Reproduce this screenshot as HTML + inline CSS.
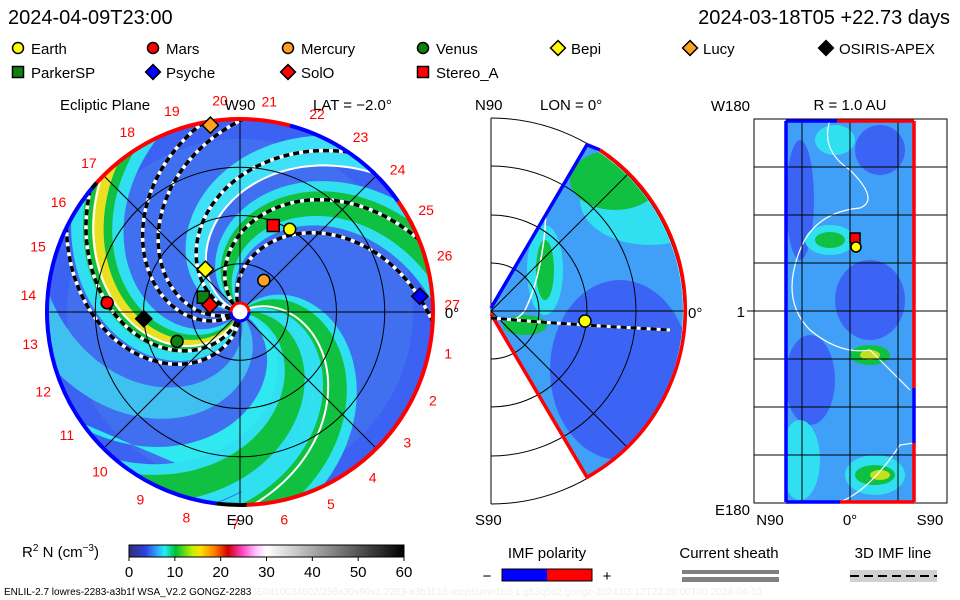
<!DOCTYPE html>
<html><head><meta charset="utf-8">
<style>
html,body{margin:0;padding:0;background:#fff;}
svg{display:block;font-family:"Liberation Sans","DejaVu Sans",sans-serif;}
</style></head>
<body>
<svg id="s" width="960" height="600" viewBox="0 0 960 600">
<defs>
<clipPath id="cc"><circle cx="240" cy="312" r="193"/></clipPath>
<clipPath id="wc"><path d="M491,311 L587,144.7 A192,192 0 0 1 587,477.3 Z"/></clipPath>
<clipPath id="rc"><rect x="785" y="120" width="129" height="382"/></clipPath>
<linearGradient id="cb" x1="0" x2="1" y1="0" y2="0">
<stop offset="0" stop-color="#303078"/><stop offset="0.06" stop-color="#3040e0"/><stop offset="0.1" stop-color="#30a0ff"/><stop offset="0.13" stop-color="#20f0f0"/><stop offset="0.17" stop-color="#00c030"/><stop offset="0.23" stop-color="#c0f000"/><stop offset="0.26" stop-color="#ffe000"/><stop offset="0.31" stop-color="#ff8000"/><stop offset="0.36" stop-color="#d00000"/><stop offset="0.41" stop-color="#ff40c0"/><stop offset="0.46" stop-color="#ffc0ff"/><stop offset="0.5" stop-color="#ffffff"/><stop offset="1" stop-color="#000000"/>
</linearGradient>
</defs>
<text x="8" y="24" font-size="20">2024-04-09T23:00</text>
<text x="950" y="24" font-size="20" text-anchor="end">2024-03-18T05 +22.73 days</text>
<g id="legend"></g>
<g id="main"></g>
<g id="mid"></g>
<g id="right"></g>
<g>
<text x="22" y="557" font-size="15">R<tspan font-size="10" dy="-6">2</tspan><tspan dy="6"> N (cm</tspan><tspan font-size="10" dy="-6">−3</tspan><tspan dy="6">)</tspan></text>
<rect x="129" y="545" width="275" height="12" fill="url(#cb)" stroke="#000"/>
<g id="cbt" font-size="15" text-anchor="middle"></g>
</g>
<text x="4" y="595" font-size="10">ENLIL-2.7 lowres-2283-a3b1f WSA_V2.2 GONGZ-2283<tspan fill="#eee">JE0410034502/256x30x90x1.2283-a3b1f.16-mcp1umn1cd-1.g53q5d2.gongz-2024:03:12T22:39:00T00  2024-04-10</tspan></text>
<g>
<text x="547" y="558" font-size="15" text-anchor="middle">IMF polarity</text>
<text x="487" y="581" font-size="15" text-anchor="middle">−</text>
<rect x="502" y="569" width="45" height="12" fill="#0000ff"/><rect x="547" y="569" width="45" height="12" fill="#ff0000"/>
<rect x="502" y="569" width="90" height="12" fill="none" stroke="#000"/>
<text x="607" y="581" font-size="15" text-anchor="middle">+</text>
</g>
<g>
<text x="729" y="558" font-size="15" text-anchor="middle">Current sheath</text>
<rect x="682" y="570" width="97" height="4" fill="#808080"/><rect x="682" y="577" width="97" height="5" fill="#808080"/>
</g>
<g>
<text x="893" y="558" font-size="15" text-anchor="middle">3D IMF line</text>
<rect x="850" y="570" width="87" height="12" fill="#d0d0d0"/>
<line x1="850" y1="576" x2="937" y2="576" stroke="#000" stroke-width="2" stroke-dasharray="9,5"/>
</g>
</svg>
<script>
const NS="http://www.w3.org/2000/svg";
function mk(p,tag,at){const e=document.createElementNS(NS,tag);for(const k in at)e.setAttribute(k,at[k]);p.appendChild(e);return e;}
// ---- data ----
const bodyNames=["Earth","Mars","Mercury","Venus","Bepi","Lucy","OSIRIS-APEX","ParkerSP","Psyche","SolO","Stereo_A"];
const bodyR=[1.0,1.38,0.41,0.72,0.57,1.96,1.0,0.41,1.87,0.32,0.96];
const bodyLon=[59,176,53,205,129,99,184,158,5,167,69];
const bodyShape=["circle","circle","circle","circle","diamond","diamond","diamond","square","diamond","diamond","square"];
const bodyColor=["#ffff00","#ff0000","#ffa020","#108010","#ffff00","#ffa020","#000000","#108010","#0000ff","#ff0000","#ff0000"];
const armTheta=[10,33,0,247,133,170,300];
const armWidth=[38,9,9,10,9,10,12];
const armColor=["#30e8f0","#10c040","#10c040","#10c040","#10c040","#40e0f8","#40c0f0"];
const imfTheta=[203,215,170,136,111,255,268];
const sheetTheta=[28,250,160];
const sectorLabels=[1,2,3,4,5,6,7,8,9,10,11,12,13,14,15,16,17,18,19,20,21,22,23,24,25,26,27];
const cbTicks=[0,10,20,30,40,50,60];
// ---- legend ----
const L=document.getElementById('legend');
function marker(g,shape,x,y,s,fill){
  let e;
  if(shape==="circle") e=mk(g,'circle',{cx:x,cy:y,r:s,fill:fill,stroke:"#000","stroke-width":1.5});
  else if(shape==="square") e=mk(g,'rect',{x:x-s,y:y-s,width:2*s,height:2*s,fill:fill,stroke:"#000","stroke-width":1.5});
  else e=mk(g,'polygon',{points:`${x},${y-s*1.35} ${x+s*1.35},${y} ${x},${y+s*1.35} ${x-s*1.35},${y}`,fill:fill,stroke:"#000","stroke-width":1.5});
  return e;
}
const legX=[18,153,288,423,558,690,826,18,153,288,423];
const legY=[48,48,48,48,48,48,48,72,72,72,72];
const legOrder=[0,1,2,3,4,5,6,7,8,9,10];
legOrder.forEach((bi,i)=>{
  const g=mk(L,'g',{});
  
  
  marker(g,bodyShape[bi],legX[i],legY[i],5.5,bodyColor[bi]);
  const t=mk(g,'text',{x:legX[i]+13,y:legY[i]+6,"font-size":15});t.textContent=bodyNames[bi];
});
// ---- main panel ----
const M=document.getElementById('main');
const cx=240,cy=312,AU=96.5,K=57;
function P(r,th){const a=th*Math.PI/180;return [cx+r*AU*Math.cos(a),cy-r*AU*Math.sin(a)];}
const fg=mk(M,'g',{"clip-path":"url(#cc)"});
mk(fg,'circle',{cx:cx,cy:cy,r:193,fill:"#4070f0"});
mk(fg,'circle',{cx:cx,cy:cy,r:193,fill:"none",stroke:"#3a5cf5","stroke-width":40,opacity:0.7});
function arm(g,th0,w,col){
  const a=[],b=[];
  for(let r=0;r<=2.2;r+=0.04){a.push(P(r,th0-K*r+w));b.push(P(r,th0-K*r-w));}
  const pts=a.concat(b.reverse()).map(p=>p[0].toFixed(1)+","+p[1].toFixed(1)).join(" ");
  return mk(g,'polygon',{points:pts,fill:col});
}
armTheta.forEach((t,i)=>{
  const g=mk(fg,'g',{});
  
  
  if(armColor[i]==="#10c040") arm(g,t,armWidth[i]*1.8,"#30e0f0");
  arm(g,t,armWidth[i],armColor[i]);
  if(i===3){arm(g,t,4,"#e8e020");}
});
function spiralPath(th0,r0){let d="";for(let r=r0;r<=2.2;r+=0.03){const p=P(r,th0-K*r);d+=(d?"L":"M")+p[0].toFixed(1)+","+p[1].toFixed(1);}return d;}
sheetTheta.forEach(t=>{
  const e=mk(fg,'path',{d:spiralPath(t,0.08),fill:"none",stroke:"#fff","stroke-width":2});
  
  
});
imfTheta.forEach(t=>{
  const g=mk(fg,'g',{});
  
  
  mk(g,'path',{d:spiralPath(t,0.1),fill:"none",stroke:"#fff","stroke-width":3.5});
  mk(g,'path',{d:spiralPath(t,0.1),fill:"none",stroke:"#000","stroke-width":3.5,"stroke-dasharray":"6,4"});
});
// grid
const grid=mk(M,'g',{fill:"none",stroke:"#000","stroke-width":1});


[0.5,1,1.5].forEach(r=>mk(grid,'circle',{cx:cx,cy:cy,r:r*AU}));
[0,45,90,135].forEach(a=>{const p=P(2,a),q=P(2,a+180);mk(grid,'line',{x1:p[0],y1:p[1],x2:q[0],y2:q[1]});});
// rim
const rim=[[138,75,"#ff0000"],[75,35,"#0000ff"],[35,-88,"#ff0000"],[-88,-97,"#000000"],[-97,-222,"#0000ff"],[-222,-220,"#000"]];
rim.forEach(s=>{
  const a=P(2,s[0]),b=P(2,s[1]);const large=Math.abs(s[0]-s[1])>180?1:0;
  const e=mk(M,'path',{d:`M${a[0]},${a[1]} A193,193 0 ${large} 1 ${b[0]},${b[1]}`,fill:"none",stroke:s[2],"stroke-width":4});
  
  
});
mk(M,'circle',{cx:cx,cy:cy,r:9,fill:"#fff",stroke:"#ff0000","stroke-width":3});
mk(M,'path',{d:`M${cx-9},${cy} A9,9 0 0 0 ${cx+9},${cy}`,fill:"none",stroke:"#0000ff","stroke-width":3});
sectorLabels.forEach((k,i)=>{
  const ang=2-k*13.33;const p=P(2.2,ang);
  const t=mk(M,'text',{x:p[0],y:p[1]+5,"font-size":14,fill:"#ff0000","text-anchor":"middle"});
  
  
  t.textContent=k;
});
bodyNames.forEach((n,i)=>{
  const p=P(bodyR[i],bodyLon[i]);
  const e=marker(M,bodyShape[i],p[0],p[1],6,bodyColor[i]);
  
  
});
[["Ecliptic Plane",60,110,"start"],["W90",240,110,"middle"],["LAT = −2.0°",313,110,"start"],["E90",240,525,"middle"],["0°",452,318,"middle"]].forEach(a=>{
  const t=mk(M,'text',{x:a[1],y:a[2],"font-size":15,"text-anchor":a[3]});t.textContent=a[0];
});
// ---- middle panel ----
const D=document.getElementById('mid');
const mx=491,my=311;
const wg=mk(D,'g',{"clip-path":"url(#wc)"});
mk(wg,'rect',{x:491,y:118,width:200,height:390,fill:"#40a0f8"});
mk(wg,'ellipse',{cx:620,cy:370,rx:70,ry:90,fill:"#3c64f4"});
mk(wg,'ellipse',{cx:650,cy:200,rx:70,ry:45,fill:"#30e0f0"});
mk(wg,'ellipse',{cx:615,cy:180,rx:45,ry:30,fill:"#10c040"});
mk(wg,'ellipse',{cx:545,cy:270,rx:18,ry:45,fill:"#30e0f0"});
mk(wg,'ellipse',{cx:545,cy:270,rx:9,ry:30,fill:"#10c040"});
mk(wg,'ellipse',{cx:525,cy:325,rx:22,ry:10,fill:"#10c040"});
mk(wg,'path',{d:"M560,170 Q545,200 545,230 Q540,280 525,310 Q515,325 498,318",fill:"none",stroke:"#fff","stroke-width":1.5});
const mg=mk(D,'g',{fill:"none",stroke:"#000","stroke-width":1});
[48,96,145,193].forEach(r=>mk(mg,'path',{d:`M${mx},${my-r} A${r},${r} 0 0 1 ${mx},${my+r}`}));
mk(mg,'line',{x1:mx,y1:my-193,x2:mx,y2:my+193});
mk(mg,'line',{x1:mx,y1:my,x2:mx+193,y2:my});
mk(mg,'line',{x1:mx,y1:my,x2:mx+136,y2:my-136});
mk(mg,'line',{x1:mx,y1:my,x2:mx+136,y2:my+136});
mk(D,'path',{d:"M491,308 L587,144.7 L600,150",fill:"none",stroke:"#0000ff","stroke-width":3.5});
mk(D,'path',{d:"M600,150 A192,192 0 0 1 587,477.3 L491,314",fill:"none",stroke:"#ff0000","stroke-width":3.5});
mk(D,'path',{d:"M491,318 L540,322 L600,326 L670,330",fill:"none",stroke:"#fff","stroke-width":3});
mk(D,'path',{d:"M491,318 L540,322 L600,326 L670,330",fill:"none",stroke:"#000","stroke-width":3,"stroke-dasharray":"6,4"});
const em=marker(D,"circle",585,321,6,"#ffff00");


[["N90",475,110],["LON = 0°",540,110],["S90",475,525],["0°",688,318]].forEach(a=>{const t=mk(D,'text',{x:a[1],y:a[2],"font-size":15});t.textContent=a[0];});
// ---- right panel ----
const R=document.getElementById('right');
const rg=mk(R,'g',{"clip-path":"url(#rc)"});
mk(rg,'rect',{x:785,y:120,width:129,height:382,fill:"#40a0f8"});
[[800,200,14,60,"#3c64f4"],[880,150,25,25,"#3c64f4"],[870,300,35,40,"#3c64f4"],[810,380,25,45,"#3c64f4"],[830,240,25,15,"#30e0f0"],[830,240,15,8,"#10c040"],[870,355,20,10,"#10c040"],[870,355,10,5,"#c0e020"],[875,475,30,20,"#30e0f0"],[875,475,20,10,"#10c040"],[880,475,10,5,"#c0e020"],[800,460,20,40,"#30e0f0"],[835,140,20,15,"#30e0f0"]].forEach(a=>mk(rg,'ellipse',{cx:a[0],cy:a[1],rx:a[2],ry:a[3],fill:a[4]}));
mk(rg,'path',{d:"M830,120 Q820,150 850,170 Q880,200 860,208 Q815,212 800,250 Q780,300 810,330 Q840,355 870,350 Q890,370 910,390 M840,502 Q870,490 900,445 L914,443",fill:"none",stroke:"#fff","stroke-width":1.2});
const rgr=mk(R,'g',{fill:"none",stroke:"#000","stroke-width":1});


mk(rgr,'rect',{x:754,y:119,width:193,height:384});
for(let i=1;i<8;i++){const y=119+i*48;mk(rgr,'line',{x1:754,y1:y,x2:947,y2:y});}
[802,850,898].forEach(x=>mk(rgr,'line',{x1:x,y1:119,x2:x,y2:503}));
mk(R,'line',{x1:786,y1:121,x2:786,y2:502,stroke:"#0000ff","stroke-width":3.5});
mk(R,'line',{x1:786,y1:121,x2:837,y2:121,stroke:"#0000ff","stroke-width":3.5});
mk(R,'line',{x1:837,y1:121,x2:914,y2:121,stroke:"#ff0000","stroke-width":3.5});
mk(R,'line',{x1:786,y1:502,x2:840,y2:502,stroke:"#0000ff","stroke-width":3.5});
mk(R,'line',{x1:840,y1:502,x2:914,y2:502,stroke:"#ff0000","stroke-width":3.5});
mk(R,'line',{x1:914,y1:121,x2:914,y2:388,stroke:"#ff0000","stroke-width":3.5});
mk(R,'line',{x1:914,y1:388,x2:914,y2:443,stroke:"#0000ff","stroke-width":3.5});
mk(R,'line',{x1:914,y1:443,x2:914,y2:502,stroke:"#ff0000","stroke-width":3.5});
const sa=marker(R,"square",855,238,5,"#ff0000");
const ea=marker(R,"circle",856,247,5,"#ffff00");
[["W180",750,111,"end"],["R = 1.0 AU",850,110,"middle"],["1",745,317,"end"],["E180",750,515,"end"],["N90",770,525,"middle"],["0°",850,525,"middle"],["S90",930,525,"middle"]].forEach(a=>{const t=mk(R,'text',{x:a[1],y:a[2],"font-size":15,"text-anchor":a[3]});t.textContent=a[0];});
mk(R,'line',{x1:747,y1:311,x2:754,y2:311,stroke:"#000"});
// colorbar ticks
const CB=document.getElementById('cbt');
cbTicks.forEach(v=>{const x=129+v/60*275;mk(CB,'line',{x1:x,y1:557,x2:x,y2:561,stroke:"#000"});const t=mk(CB,'text',{x:x,y:577});t.textContent=v;});
</script>
</body></html>
